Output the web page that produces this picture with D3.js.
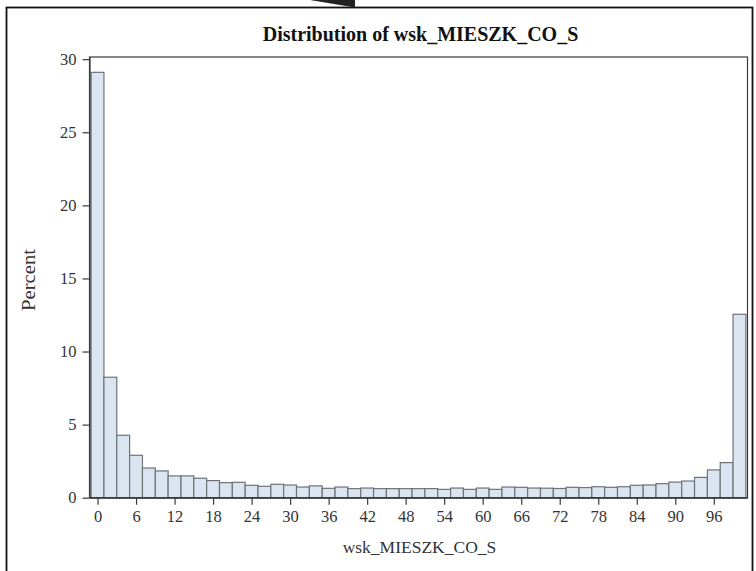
<!DOCTYPE html>
<html>
<head>
<meta charset="utf-8">
<script src="https://cdn.jsdelivr.net/npm/d3@7"></script>
<style>
  html, body { margin: 0; padding: 0; background: #fff; }
  svg { display: block; }
  text { font-family: "Liberation Serif", "Times New Roman", serif; }
</style>
</head>
<body>
<div id="chart"></div>
<script>
// ---- data ----
const binMidpoints = [0,2,4,6,8,10,12,14,16,18,20,22,24,26,28,30,32,34,36,38,40,42,44,46,48,50,52,54,56,58,60,62,64,66,68,70,72,74,76,78,80,82,84,86,88,90,92,94,96,98,100];
const percentValues = [29.1,8.24,4.27,2.90,2.03,1.83,1.49,1.49,1.33,1.17,1.03,1.05,0.85,0.78,0.92,0.87,0.73,0.81,0.64,0.73,0.62,0.66,0.62,0.62,0.62,0.62,0.62,0.57,0.66,0.57,0.66,0.57,0.73,0.71,0.66,0.65,0.63,0.71,0.69,0.75,0.71,0.75,0.85,0.87,0.96,1.07,1.14,1.39,1.90,2.40,12.55];
const xTickValues = [0,6,12,18,24,30,36,42,48,54,60,66,72,78,84,90,96];
const yTickValues = [0,5,10,15,20,25,30];
const binWidth = 2;
const titleText = "Distribution of wsk_MIESZK_CO_S";
const xTitle = "wsk_MIESZK_CO_S";
const yTitle = "Percent";

// ---- layout ----
const W = 756, H = 571;
const plot = { left: 89.5, right: 747.5, top: 57, bottom: 497.7 };

const svg = d3.select("#chart").append("svg")
  .attr("width", W).attr("height", H);

// outer border
svg.append("rect")
  .attr("x", 6.5).attr("y", 7.5)
  .attr("width", 746).attr("height", 600)
  .attr("fill", "none").attr("stroke", "#111").attr("stroke-width", 1.8);

// dark wedge at top
svg.append("path")
  .attr("d", "M310,0 L355,0 L355,7.5 Z")
  .attr("fill", "#222");

const x = d3.scaleLinear().domain([-1.25, 101.25]).range([plot.left, plot.right]);
const y = d3.scaleLinear().domain([0, 30.15]).range([plot.bottom, plot.top]);

// bars
const data = binMidpoints.map((m, i) => ({ m, v: percentValues[i] }));
svg.append("g").selectAll("rect").data(data).join("rect")
  .attr("x", d => x(d.m - binWidth / 2))
  .attr("width", d => x(d.m + binWidth / 2) - x(d.m - binWidth / 2))
  .attr("y", d => y(d.v))
  .attr("height", d => y(0) - y(d.v))
  .attr("fill", "#dbe5f1")
  .attr("stroke", "#6e737a")
  .attr("stroke-width", 1.2);

// frame
svg.append("rect")
  .attr("x", plot.left).attr("y", plot.top)
  .attr("width", plot.right - plot.left).attr("height", plot.bottom - plot.top)
  .attr("fill", "none").attr("stroke", "#3a3a3a").attr("stroke-width", 1.2);

// axes
const xAxis = d3.axisBottom(x).tickValues(xTickValues).tickSize(7).tickPadding(6).tickSizeOuter(0);
const gx = svg.append("g").attr("transform", `translate(0,${plot.bottom})`).call(xAxis);
gx.select(".domain").attr("stroke", "#3a3a3a").attr("stroke-width", 1.2);
gx.selectAll(".tick line").attr("stroke", "#3a3a3a").attr("stroke-width", 1.2);
gx.selectAll(".tick text").attr("font-size", 16.5).attr("fill", "#333")
  .attr("font-family", "Liberation Serif");

const yAxis = d3.axisLeft(y).tickValues(yTickValues).tickSize(7).tickPadding(6).tickSizeOuter(0);
const gy = svg.append("g").attr("transform", `translate(${plot.left},0)`).call(yAxis);
gy.select(".domain").attr("stroke", "#3a3a3a").attr("stroke-width", 1.2);
gy.selectAll(".tick line").attr("stroke", "#3a3a3a").attr("stroke-width", 1.2);
gy.selectAll(".tick text").attr("font-size", 16.5).attr("fill", "#333")
  .attr("font-family", "Liberation Serif");

// titles
svg.append("text")
  .attr("x", (plot.left + plot.right) / 2 + 2).attr("y", 41)
  .attr("text-anchor", "middle")
  .attr("font-size", 20).attr("font-weight", "bold").attr("fill", "#111")
  .text(titleText);

svg.append("text")
  .attr("x", (plot.left + plot.right) / 2 + 1).attr("y", 553)
  .attr("text-anchor", "middle")
  .attr("font-size", 17.5).attr("fill", "#333")
  .text(xTitle);

svg.append("text")
  .attr("transform", `translate(35,280) rotate(-90)`)
  .attr("text-anchor", "middle")
  .attr("font-size", 18).attr("fill", "#333")
  .attr("textLength", 62).attr("lengthAdjust", "spacingAndGlyphs")
  .text(yTitle);
</script>
</body>
</html>
